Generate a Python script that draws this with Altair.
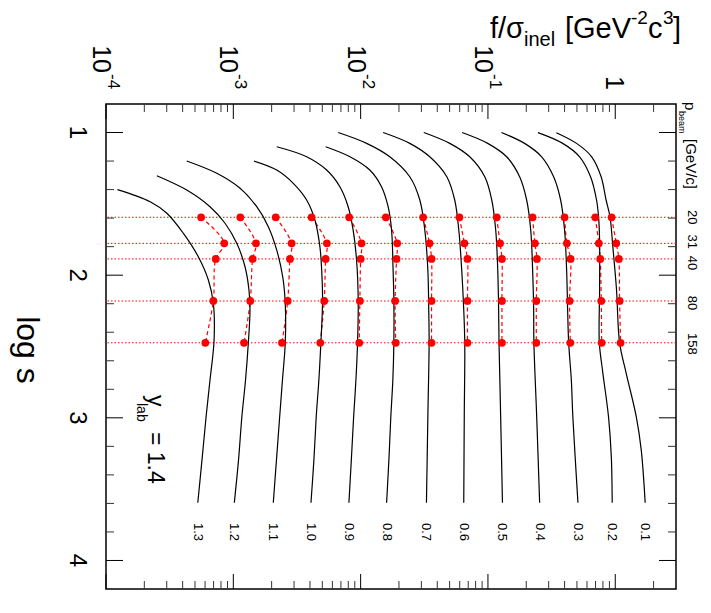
import altair as alt
import pandas as pd

FONT = "Liberation Sans"
RED = "#ff0000"
W, H = 570, 485

# ---------------- values ----------------
ylab = ["1.3", "1.2", "1.1", "1.0", "0.9", "0.8", "0.7",
        "0.6", "0.5", "0.4", "0.3", "0.2", "0.1"]

# beam momenta [GeV/c] and their log s
pbeam_lbl = ["20", "31", "40", "80", "158"]
pbeam_logs = [1.594, 1.777, 1.886, 2.181, 2.474]
# where the momentum labels sit (log s)
pbeam_lbl_logs = [1.594, 1.765, 1.915, 2.195, 2.482]

# curves: log s and log10(f/sigma_inel)
ls_13 = [1.40, 1.485, 1.566, 1.707, 1.871, 2.034, 2.197, 2.454, 2.735, 2.994, 3.295, 3.595]
lg_13 = [-3.910, -3.653, -3.522, -3.392, -3.275, -3.196, -3.157, -3.151, -3.183, -3.214, -3.246, -3.279]
ls_12 = [1.303, 1.403, 1.520, 1.636, 1.777, 1.941, 2.104, 2.244, 2.473, 2.735, 2.994, 3.295, 3.595]
lg_12 = [-3.601, -3.366, -3.183, -3.065, -2.973, -2.908, -2.877, -2.869, -2.882, -2.904, -2.933, -2.959, -2.992]
ls_11 = [1.200, 1.286, 1.391, 1.520, 1.660, 1.824, 2.011, 2.197, 2.473, 2.735, 2.994, 3.295, 3.595]
lg_11 = [-3.366, -3.130, -2.947, -2.816, -2.725, -2.659, -2.612, -2.592, -2.592, -2.614, -2.636, -2.661, -2.686]
ls_10 = [1.200, 1.263, 1.356, 1.473, 1.613, 1.800, 1.964, 2.175, 2.473, 2.735, 2.994, 3.295, 3.595]
lg_10 = [-2.838, -2.659, -2.529, -2.424, -2.359, -2.320, -2.306, -2.299, -2.312, -2.328, -2.349, -2.367, -2.390]
ls_09 = [1.100, 1.170, 1.263, 1.380, 1.520, 1.683, 1.894, 2.175, 2.473, 2.735, 2.994, 3.295, 3.595]
lg_09 = [-2.659, -2.424, -2.267, -2.163, -2.098, -2.059, -2.032, -2.019, -2.024, -2.037, -2.055, -2.073, -2.092]
ls_08 = [1.100, 1.170, 1.263, 1.380, 1.520, 1.683, 1.964, 2.175, 2.473, 2.735, 2.994, 3.295, 3.595]
lg_08 = [-2.275, -2.084, -1.928, -1.836, -1.784, -1.757, -1.745, -1.739, -1.739, -1.747, -1.763, -1.778, -1.796]
ls_07 = [1.000, 1.076, 1.170, 1.310, 1.473, 1.683, 1.964, 2.244, 2.473, 2.994, 3.595]
lg_07 = [-2.176, -1.953, -1.771, -1.614, -1.535, -1.496, -1.472, -1.465, -1.462, -1.472, -1.483]
ls_06 = [1.000, 1.076, 1.170, 1.310, 1.473, 1.683, 1.964, 2.244, 2.473, 2.994, 3.595]
lg_06 = [-1.823, -1.614, -1.457, -1.323, -1.261, -1.229, -1.206, -1.190, -1.182, -1.186, -1.190]
ls_05 = [1.000, 1.076, 1.170, 1.310, 1.473, 1.683, 1.964, 2.244, 2.473, 2.994, 3.595]
lg_05 = [-1.504, -1.300, -1.143, -1.025, -0.970, -0.939, -0.923, -0.916, -0.913, -0.900, -0.886]
ls_04 = [1.000, 1.076, 1.170, 1.310, 1.473, 1.683, 1.964, 2.244, 2.473, 2.994, 3.595]
lg_04 = [-1.203, -1.002, -0.853, -0.751, -0.696, -0.664, -0.649, -0.641, -0.639, -0.617, -0.594]
ls_03 = [1.000, 1.076, 1.170, 1.310, 1.473, 1.683, 1.964, 2.244, 2.473, 2.735, 2.994, 3.595]
lg_03 = [-0.894, -0.712, -0.578, -0.484, -0.429, -0.398, -0.382, -0.374, -0.366, -0.345, -0.333, -0.293]
ls_02 = [1.001, 1.076, 1.170, 1.310, 1.473, 1.592, 1.753, 2.104, 2.473, 2.688, 2.992, 3.272, 3.595]
lg_02 = [-0.607, -0.413, -0.280, -0.194, -0.147, -0.131, -0.123, -0.123, -0.125, -0.097, -0.053, -0.031, -0.024]
ls_01 = [1.001, 1.076, 1.170, 1.310, 1.473, 1.592, 1.800, 2.104, 2.473, 2.688, 2.992, 3.225, 3.595]
lg_01 = [-0.463, -0.304, -0.185, -0.111, -0.072, -0.041, -0.019, 0.010, 0.034, 0.086, 0.165, 0.204, 0.235]

# measured points: log10(f/sigma_inel) at the five beam momenta
pt_13 = [-3.253, -3.071, -3.138, -3.157, -3.220]
pt_12 = [-2.945, -2.822, -2.848, -2.867, -2.916]
pt_11 = [-2.667, -2.542, -2.555, -2.573, -2.618]
pt_10 = [-2.385, -2.265, -2.275, -2.286, -2.317]
pt_09 = [-2.090, -1.993, -2.000, -2.006, -2.011]
pt_08 = [-1.802, -1.713, -1.718, -1.729, -1.724]
pt_07 = [-1.509, -1.459, -1.443, -1.443, -1.443]
pt_06 = [-1.224, -1.185, -1.161, -1.161, -1.161]
pt_05 = [-0.931, -0.905, -0.890, -0.890, -0.890]
pt_04 = [-0.649, -0.631, -0.615, -0.620, -0.620]
pt_03 = [-0.398, -0.380, -0.351, -0.359, -0.353]
pt_02 = [-0.157, -0.129, -0.118, -0.110, -0.107]
pt_01 = [-0.029, 0.008, 0.028, 0.034, 0.042]

# axis ticks
x_major = [1e-4, 1e-3, 1e-2, 1e-1, 1]
x_minor = [2e-4, 3e-4, 4e-4, 5e-4, 6e-4, 7e-4, 8e-4, 9e-4,
           2e-3, 3e-3, 4e-3, 5e-3, 6e-3, 7e-3, 8e-3, 9e-3,
           2e-2, 3e-2, 4e-2, 5e-2, 6e-2, 7e-2, 8e-2, 9e-2,
           0.2, 0.3, 0.4, 0.5, 0.6, 0.7, 0.8, 0.9, 2]
x_lab_pos = [1e-4, 1e-3, 1e-2, 1e-1]
x_lab_exp = ["-4", "-3", "-2", "-1"]
y_major = [1, 2, 3, 4]
y_major_lbl = ["1", "2", "3", "4"]
y_minor = [1.2, 1.4, 1.6, 1.8, 2.2, 2.4, 2.6, 2.8, 3.2, 3.4, 3.6, 3.8]

curve_ls = [ls_13, ls_12, ls_11, ls_10, ls_09, ls_08, ls_07, ls_06, ls_05, ls_04, ls_03, ls_02, ls_01]
curve_lg = [lg_13, lg_12, lg_11, lg_10, lg_09, lg_08, lg_07, lg_06, lg_05, lg_04, lg_03, lg_02, lg_01]
points_lg = [pt_13, pt_12, pt_11, pt_10, pt_09, pt_08, pt_07, pt_06, pt_05, pt_04, pt_03, pt_02, pt_01]

# ---------------- tables ----------------
crow, prow, erow = [], [], []
for lab, a, b, p in zip(ylab, curve_ls, curve_lg, points_lg):
    for s, g in zip(a, b):
        crow.append({"ylab": lab, "ls": s, "f": 10 ** g})
    for s, g in zip(pbeam_logs, p):
        prow.append({"ylab": lab, "ls": s, "f": 10 ** g})
    erow.append({"ylab": lab, "f": 10 ** b[-1], "ls": 3.80})
df_c = pd.DataFrame(crow)
df_p = pd.DataFrame(prow)
df_e = pd.DataFrame(erow)
df_beam = pd.DataFrame({"ls": pbeam_logs})
df_beam_lbl = pd.DataFrame({"ls": pbeam_lbl_logs, "lbl": pbeam_lbl})

xs = alt.Scale(type="log", domain=[1e-4, 3], nice=False)
ys = alt.Scale(domain=[0.8, 4.2], reverse=True, nice=False, zero=False)
X = alt.X("f:Q", scale=xs, axis=None)
Y = alt.Y("ls:Q", scale=ys, axis=None)

hlines = alt.Chart(df_beam).mark_rule(color=RED, strokeDash=[1.5, 2], strokeWidth=1).encode(y=Y)
dashed = alt.Chart(df_p).mark_line(
    color=RED, strokeDash=[4, 3], strokeWidth=1.2, interpolate="catmull-rom"
).encode(x=X, y=Y, detail="ylab:N", order="ls:Q")
curves = alt.Chart(df_c).mark_line(
    color="black", strokeWidth=1.2, interpolate="catmull-rom"
).encode(x=X, y=Y, detail="ylab:N", order="ls:Q")
dots = alt.Chart(df_p).mark_circle(color=RED, size=60, opacity=1).encode(x=X, y=Y)


def xticks(vals, y0, y1, color="black"):
    return alt.Chart(pd.DataFrame({"f": vals})).mark_rule(color=color, strokeWidth=1).encode(
        x=X, y=alt.value(y0), y2=alt.value(y1))


def yticks(vals, x0, x1, color="black"):
    return alt.Chart(pd.DataFrame({"ls": vals})).mark_rule(color=color, strokeWidth=1).encode(
        y=Y, x=alt.value(x0), x2=alt.value(x1))


ticks = [
    xticks(x_major, 0, 15), xticks(x_minor, 0, 8, "#333"),
    xticks(x_major, H, H - 15), xticks(x_minor, H, H - 8, "#333"),
    yticks(y_major, 0, 17), yticks(y_minor, 0, 8, "#333"),
    yticks(y_major, W, W - 17), yticks(y_minor, W, W - 8, "#333"),
]


def txt(s, x, y, size, angle=0, align="left", baseline="alphabetic"):
    return alt.Chart(pd.DataFrame({"t": [s]})).mark_text(
        font=FONT, fontSize=size, angle=angle, align=align, baseline=baseline, color="black"
    ).encode(text="t:N", x=alt.value(x), y=alt.value(y))


# top axis labels 10^n (rotated)
df_xl = pd.DataFrame({"f": x_lab_pos, "e": x_lab_exp})
xl_base = alt.Chart(df_xl).mark_text(
    text="10", font=FONT, fontSize=25, angle=90, align="right", baseline="alphabetic", dy=13
).encode(x=X, y=alt.value(-31))
xl_exp = alt.Chart(df_xl).mark_text(
    font=FONT, fontSize=17, angle=90, align="left", baseline="alphabetic", dy=-2
).encode(x=X, y=alt.value(-30), text="e:N")
xl_one = alt.Chart(pd.DataFrame({"f": [1]})).mark_text(
    text="1", font=FONT, fontSize=25, angle=90, align="right", baseline="alphabetic", dy=9
).encode(x=X, y=alt.value(-14))

# left axis labels
yl = alt.Chart(pd.DataFrame({"ls": y_major, "t": y_major_lbl})).mark_text(
    font=FONT, fontSize=24, angle=90, align="center", baseline="alphabetic"
).encode(y=Y, x=alt.value(-36), text="t:N")

# curve labels at the bottom
el = alt.Chart(df_e).mark_text(
    font=FONT, fontSize=13, angle=90, align="center", baseline="middle"
).encode(x=X, y=Y, text="ylab:N")

# beam momentum labels at the right
bl = alt.Chart(df_beam_lbl).mark_text(
    font=FONT, fontSize=13, angle=90, align="center", baseline="alphabetic"
).encode(y=Y, x=alt.value(582), text="lbl:N")

texts = [
    xl_base, xl_exp, xl_one, yl, el, bl,
    # axis title on top
    txt("f/σ", 384, -66, 29),
    txt("inel", 418, -58, 20),
    txt("[GeV", 459, -66, 29),
    txt("-2", 525, -80, 19),
    txt("c", 542, -66, 29),
    txt("3", 557, -80, 19),
    txt("]", 567, -66, 29),
    # axis title on the left
    txt("log s", -89, 246, 32, angle=90, align="center"),
    # p_beam [GeV/c]
    txt("p", 579, -2, 15, angle=90),
    txt("beam", 573, 7, 9, angle=90),
    txt("[GeV/c]", 580, 35, 15, angle=90),
    # y_lab = 1.4
    txt("y", 41.5, 291, 23, angle=90),
    txt("lab", 31, 299, 14, angle=90),
    txt("= 1.4", 41.5, 328, 23, angle=90),
]

chart = alt.layer(hlines, dashed, curves, dots, *ticks, *texts).properties(
    width=W, height=H,
    autosize=alt.AutoSizeParams(type="none"),
    padding={"left": 98, "top": 96, "right": 27, "bottom": 16},
    background="white",
).configure_view(stroke="black", strokeWidth=1.5)

chart.save("out.html", embed_options={"renderer": "svg", "actions": False})
